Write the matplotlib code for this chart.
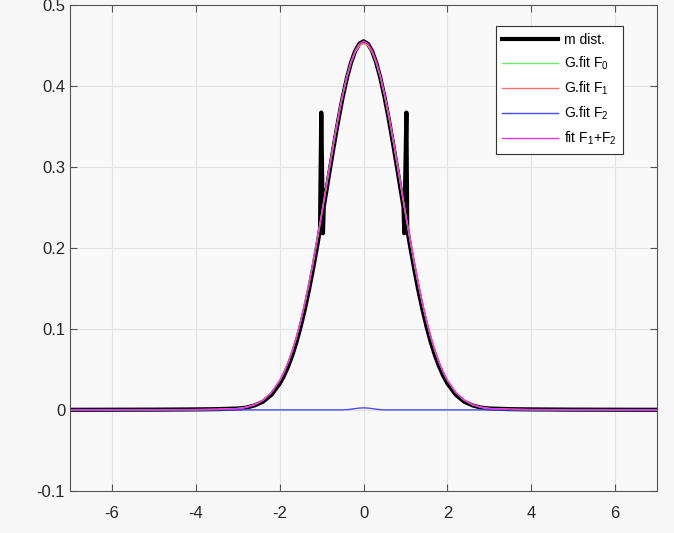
import matplotlib
matplotlib.use('Agg')
import matplotlib.pyplot as plt

plt.rcParams['font.family'] = ['Liberation Sans', 'DejaVu Sans']
plt.rcParams['mathtext.fontset'] = 'custom'
plt.rcParams['mathtext.rm'] = 'Liberation Sans'
plt.rcParams['mathtext.default'] = 'regular'
plt.rcParams['axes.unicode_minus'] = False

# measured distribution (with the two spikes near +-1)
x_m = [-7, -6, -5, -4, -3.5, -3, -2.8, -2.6, -2.4, -2.2, -2.0, -1.9, -1.8,
       -1.7, -1.6, -1.5, -1.4, -1.3, -1.2, -1.1, -1.04, -1.01, -0.97, -0.95,
       -0.9, -0.8, -0.7, -0.6, -0.5, -0.4, -0.3, -0.2, -0.1, 0.0,
       0.1, 0.2, 0.3, 0.4, 0.5, 0.6, 0.7, 0.8, 0.9, 0.95, 0.97, 1.02, 1.04,
       1.1, 1.2, 1.3, 1.4, 1.5, 1.6, 1.7, 1.8, 1.9, 2.0, 2.2, 2.4, 2.6, 2.8,
       3, 3.5, 4, 5, 6, 7]
m_dist = [0.0001, 0.0002, 0.0003, 0.0006, 0.0009, 0.0017, 0.0028, 0.0055,
          0.0101, 0.0186, 0.0324, 0.0420, 0.0536, 0.0675, 0.0839, 0.1030,
          0.1247, 0.1490, 0.1758, 0.2046, 0.2230, 0.3670, 0.2180, 0.2507,
          0.2665, 0.2982, 0.3292, 0.3587, 0.3857, 0.4094, 0.4287, 0.4432,
          0.4520, 0.4550,
          0.4520, 0.4432, 0.4287, 0.4094, 0.3857, 0.3587, 0.3292, 0.2982,
          0.2665, 0.2507, 0.2180, 0.3670, 0.2230, 0.2046, 0.1758, 0.1490,
          0.1247, 0.1030, 0.0839, 0.0675, 0.0536, 0.0420, 0.0324, 0.0186,
          0.0101, 0.0055, 0.0028, 0.0017, 0.0009, 0.0006, 0.0003, 0.0002,
          0.0001]

# gaussian fits
x_fit = [-7, -6, -5, -4, -3.5, -3, -2.8, -2.6, -2.4, -2.2, -2.0, -1.9, -1.8,
         -1.7, -1.6, -1.5, -1.4, -1.3, -1.2, -1.1, -1.0, -0.9, -0.8, -0.7,
         -0.6, -0.5, -0.4, -0.3, -0.2, -0.1, 0.0, 0.1, 0.2, 0.3, 0.4, 0.5,
         0.6, 0.7, 0.8, 0.9, 1.0, 1.1, 1.2, 1.3, 1.4, 1.5, 1.6, 1.7, 1.8,
         1.9, 2.0, 2.2, 2.4, 2.6, 2.8, 3, 3.5, 4, 5, 6, 7]
g_f1 = [0.0, 0.0, 0.0001, 0.0003, 0.0006, 0.0016, 0.0032, 0.0064, 0.0120,
        0.0214, 0.0364, 0.0466, 0.0588, 0.0734, 0.0904, 0.1099, 0.1320,
        0.1566, 0.1833, 0.2120, 0.2420, 0.2729, 0.3038, 0.3340, 0.3625,
        0.3886, 0.4110, 0.4291, 0.4421, 0.4498, 0.4525, 0.4498, 0.4421,
        0.4291, 0.4110, 0.3886, 0.3625, 0.3340, 0.3038, 0.2729, 0.2420,
        0.2120, 0.1833, 0.1566, 0.1320, 0.1099, 0.0904, 0.0734, 0.0588,
        0.0466, 0.0364, 0.0214, 0.0120, 0.0064, 0.0032, 0.0016, 0.0006,
        0.0003, 0.0001, 0.0, 0.0]
g_f0 = list(g_f1)
g_f2 = [0.0, 0.0, 0.0, 0.0, 0.0, 0.0, 0.0, 0.0, 0.0, 0.0, 0.0, 0.0, 0.0,
        0.0, 0.0, 0.0, 0.0, 0.0, 0.0, 0.0, 0.0, 0.0, 0.0, 0.0, 0.0, 0.0,
        0.0003, 0.0008, 0.0016, 0.0022, 0.0025, 0.0022, 0.0016, 0.0008,
        0.0003, 0.0, 0.0, 0.0, 0.0, 0.0, 0.0, 0.0, 0.0, 0.0, 0.0, 0.0, 0.0,
        0.0, 0.0, 0.0, 0.0, 0.0, 0.0, 0.0, 0.0, 0.0, 0.0, 0.0, 0.0, 0.0, 0.0]
fit_sum = [a + b for a, b in zip(g_f1, g_f2)]

fig = plt.figure(figsize=(6.74, 5.33), dpi=100, facecolor='#f7f7f7')
ax = fig.add_axes([0.104, 0.079, 0.871, 0.912])
ax.set_facecolor('#f9f9f9')

ax.plot(x_m, m_dist, color='black', linewidth=3.0, label='m dist.')
ax.plot(x_fit, g_f0, color='#66ee66', linewidth=1.0, label='G.fit F$_0$')
ax.plot(x_fit, g_f1, color='#ff6f6f', linewidth=1.0, label='G.fit F$_1$')
ax.plot(x_fit, g_f2, color='#4a4aff', linewidth=1.0, label='G.fit F$_2$')
ax.plot(x_fit, fit_sum, color='#ee33ee', linewidth=1.0,
        label='fit F$_1$+F$_2$')

ax.set_xlim(-7, 7)
ax.set_ylim(-0.1, 0.5)
ax.set_xticks([-6, -4, -2, 0, 2, 4, 6])
ax.set_yticks([-0.1, 0, 0.1, 0.2, 0.3, 0.4, 0.5])
ax.set_yticklabels(['-0.1', '0', '0.1', '0.2', '0.3', '0.4', '0.5'])
ax.grid(True, color='#e2e2e2', linewidth=0.8)
ax.set_axisbelow(True)
ax.tick_params(direction='in', top=True, right=True, length=5,
               color='#555555', labelsize=12, labelcolor='#262626')
ax.tick_params(axis='x', pad=11)
for s in ax.spines.values():
    s.set_color('#555555')
    s.set_linewidth(0.8)

leg = ax.legend(loc='upper right', bbox_to_anchor=(0.954, 0.971),
                fontsize=10, handlelength=4.0, labelspacing=0.55,
                fancybox=False, framealpha=1, edgecolor='#333333',
                borderpad=0.5, handletextpad=0.4)
leg.get_frame().set_linewidth(0.8)

fig.savefig('out.png', dpi=100, facecolor=fig.get_facecolor())
